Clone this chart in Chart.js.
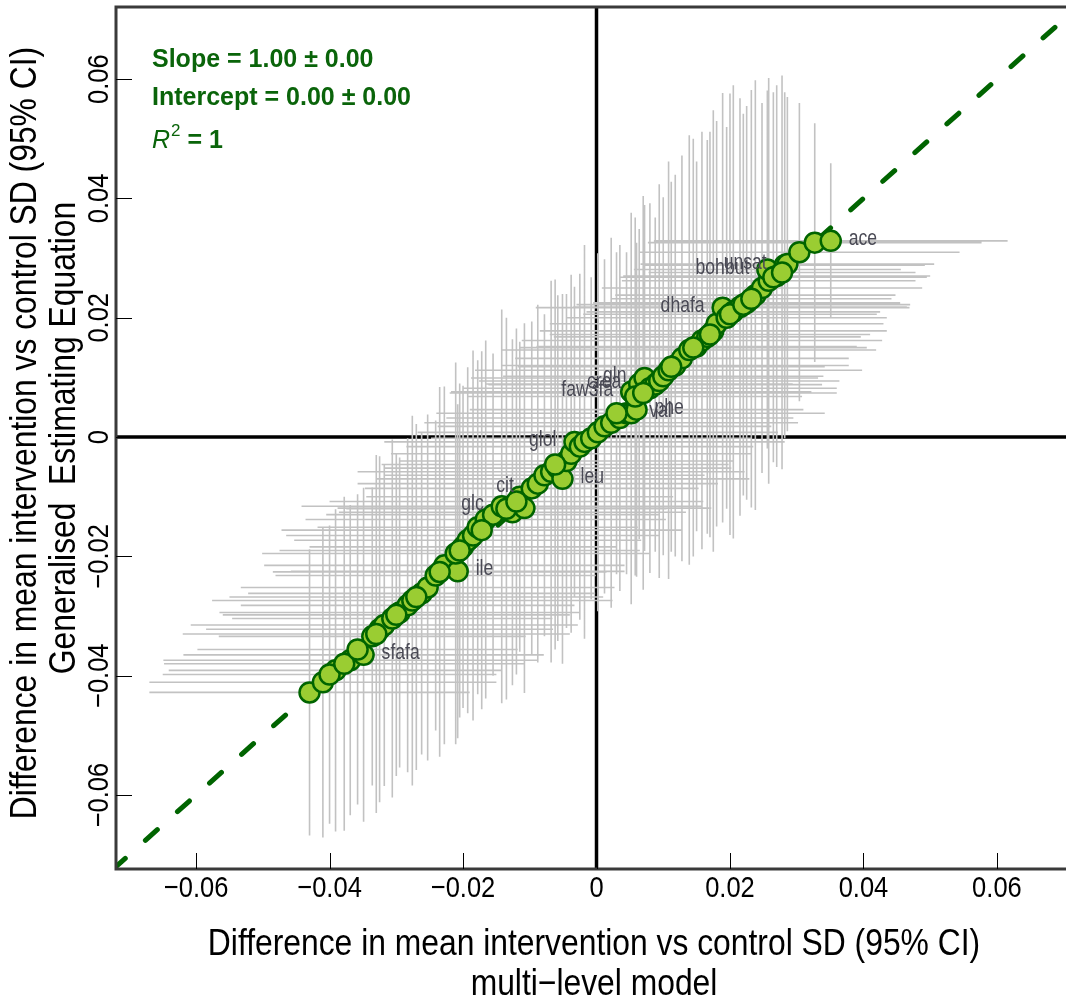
<!DOCTYPE html>
<html>
<head>
<meta charset="utf-8">
<script src="https://cdn.jsdelivr.net/npm/chart.js@4.4.0/dist/chart.umd.min.js"></script>
<style>
  body { margin: 0; background: #fff; overflow: hidden; }
  canvas { display: block; }
</style>
</head>
<body>
<canvas id="gee-mlm" width="1066" height="1002"></canvas>
<script>
// multi-level model estimate (x) vs GEE estimate (y), SD units
var mlmEst = [-0.0430,-0.0410,-0.0391,-0.0369,-0.0349,-0.0336,-0.0325,-0.0318,-0.0306,-0.0295,
  -0.0283,-0.0276,-0.0262,-0.0253,-0.0241,-0.0228,-0.0208,-0.0211,-0.0200,-0.0193,
  -0.0185,-0.0178,-0.0166,-0.0155,-0.0142,-0.0126,-0.0115,-0.0108,-0.0097,-0.0088,
  -0.0078,-0.0068,-0.0058,-0.0051,-0.0045,-0.0038,-0.0033,-0.0025,-0.0018,-0.0008,
  0.0002,0.0012,0.0022,0.0035,0.0045,0.0052,0.0060,0.0052,0.0064,0.0072,
  0.0080,0.0088,0.0094,0.0100,0.0108,0.0118,0.0128,0.0139,0.0150,0.0158,
  0.0166,0.0175,0.0180,0.0189,0.0195,0.0205,0.0215,0.0225,0.0238,0.0248,
  0.0258,0.0256,0.0270,0.0282,0.0286,0.0304,0.0327,0.0351,
  -0.0400,-0.0378,-0.0358,-0.0330,-0.0300,-0.0270,-0.0235,-0.0205,-0.0172,-0.0135,
  -0.0120,-0.0062,0.0030,0.0058,0.0070,0.0112,0.0145,0.0170,0.0200,0.0220,
  0.0232,0.0265,0.0278];
var geeEst = [-0.0428,-0.0411,-0.0391,-0.0374,-0.0365,-0.0334,-0.0322,-0.0315,-0.0304,-0.0294,
  -0.0282,-0.0274,-0.0262,-0.0252,-0.0232,-0.0215,-0.0225,-0.0195,-0.0184,-0.0173,
  -0.0165,-0.0151,-0.0138,-0.0130,-0.0116,-0.0126,-0.0100,-0.0119,-0.0086,-0.0078,
  -0.0064,-0.0058,-0.0052,-0.0070,-0.0040,-0.0028,-0.0008,-0.0016,-0.0008,-0.0002,
  0.0008,0.0018,0.0024,0.0032,0.0040,0.0040,0.0046,0.0076,0.0089,0.0099,
  0.0082,0.0088,0.0094,0.0102,0.0112,0.0120,0.0132,0.0146,0.0152,0.0162,
  0.0168,0.0178,0.0190,0.0217,0.0200,0.0210,0.0218,0.0225,0.0238,0.0250,
  0.0262,0.0281,0.0270,0.0288,0.0290,0.0310,0.0326,0.0329,
  -0.0398,-0.0380,-0.0356,-0.0330,-0.0298,-0.0268,-0.0226,-0.0190,-0.0156,-0.0120,
  -0.0108,-0.0046,0.0040,0.0068,0.0074,0.0118,0.0150,0.0172,0.0206,0.0222,
  0.0232,0.0268,0.0276];
// 95% CI half widths
var mlmHalf = [0.024,0.026,0.025,0.028,0.027,0.023,0.026,0.029,0.024,0.027,
  0.025,0.030,0.026,0.028,0.024,0.027,0.025,0.029,0.023,0.026,
  0.028,0.024,0.027,0.025,0.030,0.026,0.023,0.028,0.025,0.027,
  0.024,0.029,0.026,0.028,0.025,0.027,0.023,0.026,0.030,0.024,
  0.027,0.025,0.028,0.026,0.024,0.029,0.025,0.027,0.023,0.026,
  0.028,0.025,0.027,0.024,0.029,0.026,0.025,0.028,0.024,0.027,
  0.023,0.026,0.025,0.028,0.024,0.022,0.025,0.023,0.021,0.024,
  0.022,0.020,0.023,0.021,0.022,0.024,0.025,0.0265,
  0.025,0.027,0.024,0.029,0.026,0.028,0.025,0.027,0.030,0.024,
  0.028,0.026,0.027,0.025,0.029,0.023,0.026,0.024,0.022,0.025,
  0.021,0.023,0.020];
var geeHalf = [0.024,0.026,0.027,0.026,0.028,0.025,0.029,0.027,0.030,0.026,
  0.028,0.031,0.027,0.029,0.026,0.030,0.028,0.032,0.027,0.029,
  0.031,0.028,0.030,0.027,0.033,0.029,0.026,0.031,0.028,0.030,
  0.027,0.032,0.029,0.031,0.028,0.030,0.026,0.029,0.033,0.027,
  0.030,0.028,0.031,0.029,0.027,0.032,0.028,0.030,0.026,0.029,
  0.031,0.028,0.033,0.030,0.035,0.032,0.034,0.036,0.031,0.035,
  0.033,0.037,0.034,0.036,0.032,0.038,0.035,0.033,0.036,0.031,
  0.034,0.030,0.032,0.029,0.028,0.025,0.020,0.013,
  0.025,0.028,0.026,0.030,0.027,0.029,0.031,0.028,0.030,0.032,
  0.029,0.031,0.027,0.030,0.033,0.031,0.035,0.034,0.037,0.032,
  0.035,0.031,0.033];

// labelled metabolites: name, point index, side of the point
var labelNames = ['sfafa','ile','glc','cit','leu','glol','val','phe','faw3fa','crea','gln','dhafa','bohbut','unsat','ace'];
var labelIdx   = [4, 16, 24, 28, 33, 36, 45, 46, 47, 48, 49, 63, 71, 73, 77];
var labelSide  = ['R','R','L','L','R','L','R','R','L','L','L','L','L','L','R'];

var tickVals = [-0.06,-0.04,-0.02,0,0.02,0.04,0.06];
var fitSlope = 1, fitIntercept = 0;
var statLines = ['Slope = 1.00 \u00b1 0.00', 'Intercept = 0.00 \u00b1 0.00'];
var xTitle = ['Difference in mean intervention vs control SD (95% CI)', 'multi\u2212level model'];
var yTitle = ['Difference in mean intervention vs control SD (95% CI)', 'Generalised  Estimating Equation'];

var points = mlmEst.map(function (x, i) { return { x: x, y: geeEst[i] }; });
var fitLine = [-0.0724, 0.08].map(function (x) { return { x: x, y: fitIntercept + fitSlope * x }; });

var FONT = '"Liberation Sans", Arial, sans-serif';
var GREEN = '#0a640a';

function txt(ctx, s, x, y, size, cond, align, rot, weight, color) {
  ctx.save();
  ctx.translate(x, y);
  if (rot) ctx.rotate(rot);
  ctx.scale(cond, 1);
  ctx.font = (weight || '') + ' ' + size + 'px ' + FONT;
  ctx.fillStyle = color || '#000';
  ctx.textAlign = align;
  ctx.textBaseline = 'middle';
  ctx.fillText(s, 0, 0);
  ctx.restore();
}
function fmt(v) {
  if (v === 0) return '0';
  return v.toFixed(2).replace('-', '\u2212');
}

var decor = {
  id: 'decor',
  beforeDatasetsDraw: function (chart) {
    var ctx = chart.ctx, xs = chart.scales.x, ys = chart.scales.y, a = chart.chartArea;
    ctx.save();
    ctx.beginPath();
    ctx.rect(a.left, a.top, a.right - a.left, a.bottom - a.top);
    ctx.clip();
    // zero lines
    ctx.strokeStyle = '#000';
    ctx.lineWidth = 3.5;
    ctx.beginPath();
    ctx.moveTo(xs.getPixelForValue(0), a.top);
    ctx.lineTo(xs.getPixelForValue(0), a.bottom);
    ctx.moveTo(a.left, ys.getPixelForValue(0));
    ctx.lineTo(a.right, ys.getPixelForValue(0));
    ctx.stroke();
    // error bars
    ctx.strokeStyle = '#c2c2c2';
    ctx.lineWidth = 1.6;
    ctx.beginPath();
    for (var i = 0; i < mlmEst.length; i++) {
      var px = xs.getPixelForValue(mlmEst[i]), py = ys.getPixelForValue(geeEst[i]);
      ctx.moveTo(xs.getPixelForValue(mlmEst[i] - mlmHalf[i]), py);
      ctx.lineTo(xs.getPixelForValue(mlmEst[i] + mlmHalf[i]), py);
      ctx.moveTo(px, ys.getPixelForValue(geeEst[i] - geeHalf[i]));
      ctx.lineTo(px, ys.getPixelForValue(geeEst[i] + geeHalf[i]));
    }
    ctx.stroke();
    ctx.restore();
  },
  afterDatasetsDraw: function (chart) {
    var ctx = chart.ctx, xs = chart.scales.x, ys = chart.scales.y, a = chart.chartArea;
    // point labels
    labelNames.forEach(function (n, k) {
      var i = labelIdx[k];
      var px = xs.getPixelForValue(mlmEst[i]), py = ys.getPixelForValue(geeEst[i]);
      var right = labelSide[k] === 'R';
      txt(ctx, n, px + (right ? 18 : -18), py - 2, 22, 0.8, right ? 'left' : 'right', 0, '', '#4a4a55');
    });
    // frame (right side falls outside the picture)
    ctx.save();
    ctx.strokeStyle = '#3a3a3a';
    ctx.lineWidth = 3;
    ctx.beginPath();
    ctx.moveTo(a.right + 2, a.top);
    ctx.lineTo(a.left, a.top);
    ctx.lineTo(a.left, a.bottom);
    ctx.lineTo(a.right + 2, a.bottom);
    ctx.stroke();
    // inward ticks
    ctx.strokeStyle = '#000';
    ctx.lineWidth = 1;
    ctx.beginPath();
    tickVals.forEach(function (v) {
      var x = Math.round(xs.getPixelForValue(v)) + 0.5;
      ctx.moveTo(x, a.bottom);
      ctx.lineTo(x, a.bottom - 16);
      var y = Math.round(ys.getPixelForValue(v)) + 0.5;
      ctx.moveTo(a.left, y);
      ctx.lineTo(a.left + 16, y);
    });
    ctx.stroke();
    ctx.restore();
    // tick labels
    tickVals.forEach(function (v) {
      txt(ctx, fmt(v), xs.getPixelForValue(v), a.bottom + 20, 30, 0.85, 'center');
      txt(ctx, fmt(v), a.left - 16, ys.getPixelForValue(v), 30, 0.85, 'center', -Math.PI / 2);
    });
    // axis titles
    var cx = (a.left + a.right) / 2, cy = (a.top + a.bottom) / 2;
    txt(ctx, xTitle[0], cx + 3, 945, 37, 0.86, 'center');
    txt(ctx, xTitle[1], cx + 3, 985, 37, 0.86, 'center');
    txt(ctx, yTitle[0], 26, cy - 5, 37, 0.86, 'center', -Math.PI / 2);
    txt(ctx, yTitle[1], 65, cy, 37, 0.86, 'center', -Math.PI / 2);
    // fit statistics
    txt(ctx, statLines[0], 152, 60, 25, 1, 'left', 0, 'bold', GREEN);
    txt(ctx, statLines[1], 152, 98, 25, 1, 'left', 0, 'bold', GREEN);
    ctx.save();
    ctx.fillStyle = GREEN;
    ctx.textBaseline = 'middle';
    ctx.font = 'italic 25px ' + FONT;
    ctx.fillText('R', 152, 141);
    var w = ctx.measureText('R').width;
    ctx.font = '17px ' + FONT;
    ctx.fillText('2', 152 + w + 1, 131);
    var w2 = ctx.measureText('2').width;
    ctx.font = 'bold 25px ' + FONT;
    ctx.fillText(' = 1', 152 + w + w2 + 1, 141);
    ctx.restore();
  }
};

new Chart(document.getElementById('gee-mlm'), {
  type: 'scatter',
  data: {
    datasets: [{
      data: points,
      order: 0,
      pointRadius: 10,
      pointHoverRadius: 10,
      borderWidth: 2.5,
      backgroundColor: '#9acd32',
      borderColor: '#006400'
    }, {
      type: 'line',
      data: fitLine,
      order: 1,
      borderColor: '#006400',
      borderWidth: 5,
      borderDash: [16, 27],
      borderCapStyle: 'round',
      pointRadius: 0,
      fill: false
    }]
  },
  options: {
    responsive: false,
    animation: false,
    events: [],
    layout: { autoPadding: false, padding: { top: 7, left: 0, right: 0, bottom: 0 } },
    plugins: { legend: { display: false }, tooltip: { enabled: false } },
    scales: {
      x: {
        type: 'linear', min: -0.0720, max: 0.07035,
        grid: { display: false }, border: { display: false },
        ticks: { display: false },
        afterFit: function (s) { s.height = 133; }
      },
      y: {
        type: 'linear', min: -0.0724, max: 0.0721,
        grid: { display: false }, border: { display: false },
        ticks: { display: false },
        afterFit: function (s) { s.width = 116; }
      }
    }
  },
  plugins: [decor]
});
</script>
</body>
</html>
